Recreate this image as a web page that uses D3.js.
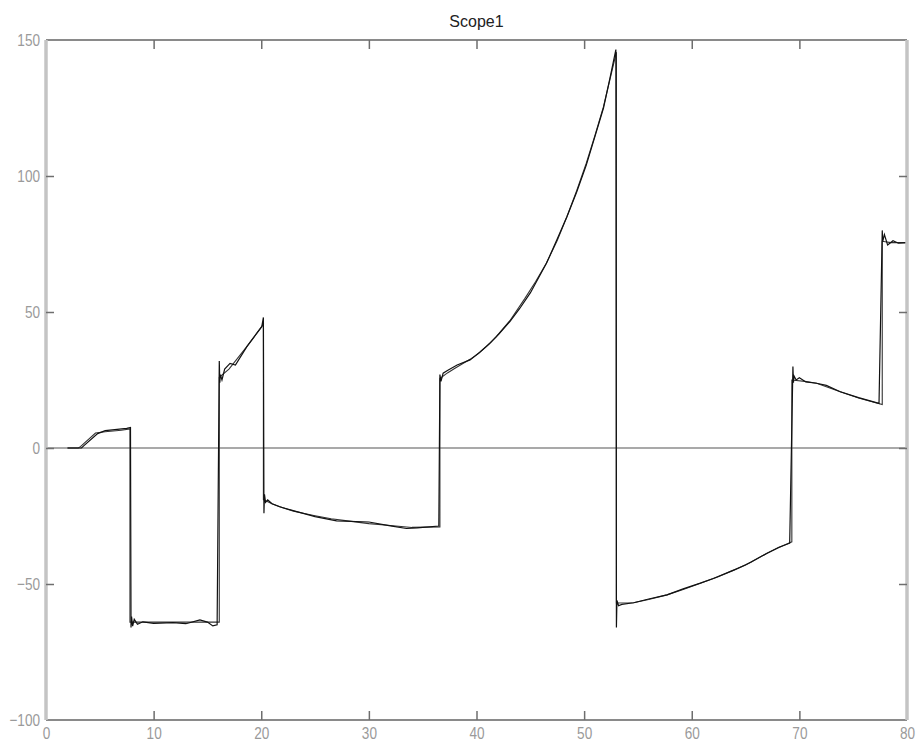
<!DOCTYPE html>
<html>
<head>
<meta charset="utf-8">
<script src="https://d3js.org/d3.v7.min.js"></script>
<style>
    body { margin: 0; background: #fff; }
    .tick text { font-family: "Liberation Sans Narrow", "Liberation Sans", sans-serif; font-size: 17px; fill: #9a9a9a; }
    .tick line { stroke: #6e6e6e; stroke-width: 1.5; }
</style>
</head>
<body>
<svg width="916" height="742"></svg>
<script>

var xTicks = [0, 10, 20, 30, 40, 50, 60, 70, 80];
var yTicks = [-100, -50, 0, 50, 100, 150];

// reference signal (smooth)
var refT = [2, 3.0, 3.2, 4.6, 5.5, 7.0, 7.8, 7.8, 9, 12, 14, 15.5, 16.1, 16.1, 17, 18.6, 20.2, 20.2, 21, 22, 23, 24, 25, 26.5, 28, 30, 32, 34, 36.6,
            36.6, 37.3, 38, 38.7, 39.4, 40.2, 40.9, 41.8, 43.1, 44.5, 45.5, 46.5, 47.5, 48.4, 49.3, 50.2, 51, 51.8, 52.4, 53.0,
            53.0, 54.6, 56, 57.7, 59.2, 60.8, 62.4, 63.9, 65.5, 67.0, 68, 69.3,
            69.3, 70.5, 71.6, 73.8, 75.5, 77.7, 77.7, 78.5, 80];
var refV = [0, 0, 0.5, 5.5, 6.0, 6.5, 7.0, -64, -64, -64, -64, -64, -64, 26, 29, 37, 45.5, -19, -20.5, -22, -23.2, -24.1, -24.9, -26, -26.8, -27.8, -28.5, -29.2, -29,
            25.5, 27.6, 29.3, 31, 32.6, 34.8, 37.3, 40.8, 46.8, 55, 61.2, 68, 76.3, 85, 94.5, 104.7, 114.8, 125.5, 135.5, 145.5,
            -57, -56.9, -55.7, -54, -52, -49.7, -47.4, -44.9, -42, -38.7, -36.8, -34.5,
            25, 24.5, 23.8, 20.7, 18.4, 16, 76, 75.5, 75.5];

// measured output (with overshoot)
var outT = [2, 3.3, 3.5, 4.8, 5.5, 7.5, 7.85, 7.9, 7.95, 8.05, 8.2, 8.5, 9, 10, 11.8, 13, 14.3, 15.0, 15.5, 15.9,
            16.1, 16.15, 16.2, 16.35, 16.6, 17.1, 17.6, 18.65, 20.05, 20.2, 20.25, 20.3, 20.4, 20.6, 21.0, 21.7, 23.3, 25, 27, 30, 32, 33.5, 34.5, 36.5,
            36.6, 36.7, 36.9, 37.3, 38.2, 39.4, 40.3, 41.2, 42.1, 43.1, 44, 45, 46.5, 47.5, 48.4, 49.3, 50.2, 51, 51.8, 52.4, 52.95,
            53.0, 53.05, 53.2, 53.5, 54.6, 56, 57.7, 59.2, 60.8, 62, 63.9, 65, 67.0, 68.1, 69.1,
            69.4, 69.45, 69.5, 69.7, 70, 70.6, 71.6, 72.5, 73.8, 75.5, 77.4,
            77.7, 77.75, 77.9, 78.2, 78.7, 79.2, 80];
var outV = [0, 0, 0.8, 5.3, 6.4, 7.2, 7.5, -66, -62, -65.5, -63, -64.8, -63.9, -64.5, -64.2, -64.6, -63.2, -64, -65.4, -65,
            32, 24, 27, 25, 29, 31.1, 30.5, 37.2, 44.6, 48, -24, -17, -20, -19.1, -20.5, -21.6, -23.4, -25.2, -26.8, -27.2, -28.6, -29.6, -29.4, -28.7,
            27, 24.5, 27.5, 28.5, 30.5, 32.4, 35.2, 38.3, 42, 46.5, 51.2, 57, 67.9, 76.8, 85, 94, 104, 114.5, 125, 136, 146.5,
            -66, -56, -58, -57.5, -56.9, -55.5, -54, -51.8, -49.7, -48, -44.9, -43, -38.7, -36.5, -35,
            30, 24, 26.5, 25, 25.8, 24.3, 23.8, 23, 20.7, 18.5, 16.4,
            80, 76, 78.5, 74.6, 76.2, 75.3, 75.5];

var svg = d3.select("svg");
var margin = {left: 46, right: 9, top: 40, bottom: 22};
var width = 916 - margin.left - margin.right,
    height = 742 - margin.top - margin.bottom;

var g = svg.append("g").attr("transform", "translate(" + margin.left + "," + margin.top + ")");

var x = d3.scaleLinear().domain([0, 80]).range([0, width]);
var y = d3.scaleLinear().domain([-100, 150]).range([height, 0]);

// zero line
g.append("line")
    .attr("x1", x(0)).attr("x2", x(80))
    .attr("y1", y(0)).attr("y2", y(0))
    .attr("stroke", "#8c8c8c").attr("stroke-width", 1.6);

var line = d3.line()
    .x(function(d) { return x(d[0]); })
    .y(function(d) { return y(d[1]); });

var ref = refT.map(function(t, i) { return [t, refV[i]]; });
var out = outT.map(function(t, i) { return [t, outV[i]]; });

g.append("path").datum(ref)
    .attr("fill", "none").attr("stroke", "#333").attr("stroke-width", 1.1)
    .attr("d", line);
g.append("path").datum(out)
    .attr("fill", "none").attr("stroke", "#111").attr("stroke-width", 1.2)
    .attr("d", line);

// frame
g.append("line").attr("x1", 0).attr("x2", width).attr("y1", 0).attr("y2", 0)
    .attr("stroke", "#8a8a8a").attr("stroke-width", 2);
g.append("line").attr("x1", 0).attr("x2", width).attr("y1", height).attr("y2", height)
    .attr("stroke", "#8a8a8a").attr("stroke-width", 2);
g.append("line").attr("x1", 0).attr("x2", 0).attr("y1", 0).attr("y2", height)
    .attr("stroke", "#c4c4c4").attr("stroke-width", 3.5);
g.append("line").attr("x1", width).attr("x2", width).attr("y1", 0).attr("y2", height)
    .attr("stroke", "#c4c4c4").attr("stroke-width", 3.5);

// axes, ticks pointing inward
var xb = g.append("g").attr("transform", "translate(0," + height + ")")
    .call(d3.axisBottom(x).tickValues(xTicks).tickSize(-9).tickPadding(7));
g.append("g").call(d3.axisTop(x).tickValues(xTicks.slice(1, -1)).tickSize(-9).tickFormat(""));
var yl = g.append("g").call(d3.axisLeft(y).tickValues(yTicks).tickSize(-8).tickPadding(6));
g.append("g").attr("transform", "translate(" + width + ",0)")
    .call(d3.axisRight(y).tickValues(yTicks.slice(1, -1)).tickSize(-8).tickFormat(""));

g.selectAll(".domain").remove();
xb.selectAll(".tick").filter(function(d) { return d == 0 || d == 80; }).select("line").remove();
yl.selectAll(".tick").filter(function(d) { return d == -100 || d == 150; }).select("line").remove();

// narrow the digits a bit
xb.selectAll(".tick text").attr("transform", "scale(0.8,1)");
yl.selectAll(".tick text").attr("transform", "scale(0.8,1)").attr("x", -6 / 0.8);

svg.append("text")
    .attr("x", margin.left + width / 2)
    .attr("y", 27)
    .attr("text-anchor", "middle")
    .attr("font-family", "Liberation Sans, sans-serif")
    .attr("font-size", 16)
    .attr("fill", "#222")
    .text("Scope1");

</script>
</body>
</html>
